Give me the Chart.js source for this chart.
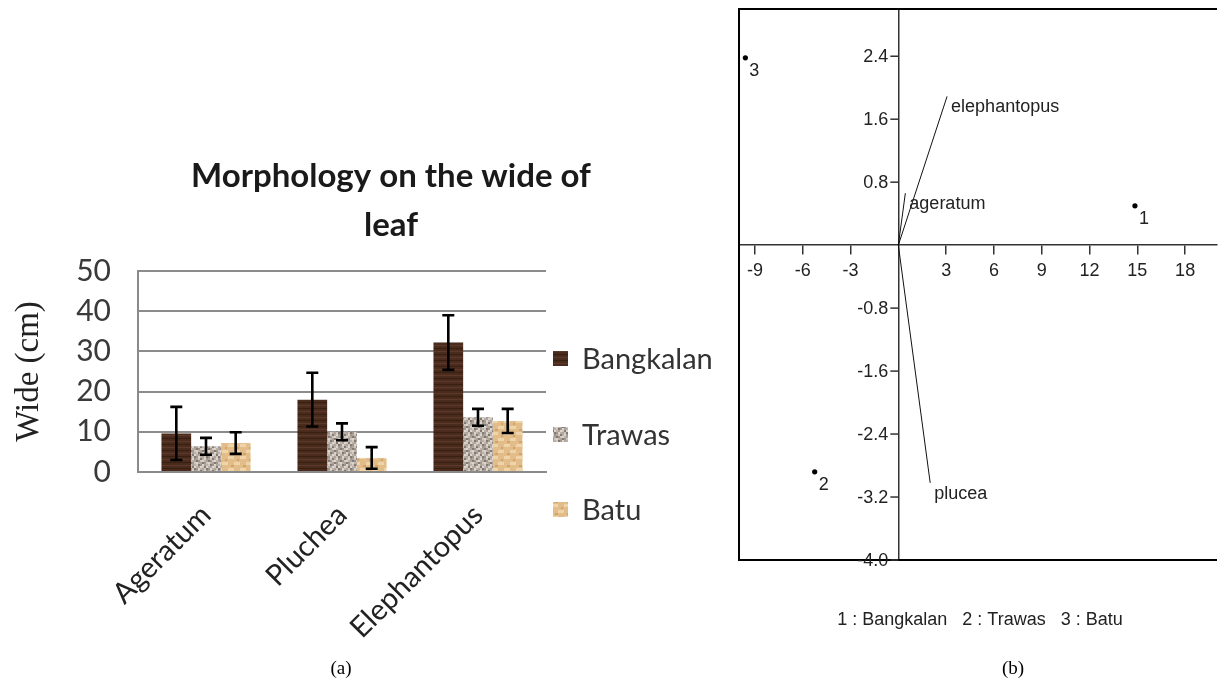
<!DOCTYPE html>
<html><head><meta charset="utf-8">
<script src="https://cdn.jsdelivr.net/npm/chart.js@4.4.0/dist/chart.umd.min.js"></script>
<style>
html,body{margin:0;padding:0;background:#fff;width:1221px;height:682px;overflow:hidden;position:relative}
#wa{position:absolute;left:0;top:0;width:730px;height:682px}
#wb{position:absolute;left:730px;top:0;width:491px;height:682px}
.cap{position:absolute;width:80px;text-align:center;font-family:"Liberation Serif";font-size:19px;line-height:24px;color:#000}
</style></head><body>
<div id="wa"><canvas id="ca"></canvas></div>
<div id="wb"><canvas id="cb"></canvas></div>
<div class="cap" style="left:301px;top:656px">(a)</div>
<div class="cap" style="left:973px;top:656px">(b)</div>
<script>
// ---------- data: panel (a) ----------
const categories = ['Ageratum', 'Pluchea', 'Elephantopus'];
const seriesNames = ['Bangkalan', 'Trawas', 'Batu'];
const bangkalan = [9.6, 18, 32.2];
const trawas = [6.4, 10, 13.6];
const batu = [7.2, 3.5, 12.7];
const errBangkalan = [6.6, 6.7, 6.8];
const errTrawas = [2.1, 2.1, 2.1];
const errBatu = [2.7, 2.7, 3.0];
const yTicksA = [0, 10, 20, 30, 40, 50];
const titleA = ['Morphology on the wide of', 'leaf'];
const yTitleA = 'Wide (cm)';

// ---------- data: panel (b) ----------
const siteNames = ['1', '2', '3'];
const siteX = [14.85, -5.25, -9.6];
const siteY = [0.5, -2.88, 2.38];
const varNames = ['elephantopus', 'ageratum', 'plucea'];
const varX = [3.06, 0.44, 2.0];
const varY = [1.89, 0.66, -3.02];
const xTicksB = [-9, -6, -3, 3, 6, 9, 12, 15, 18];
const yTicksB = [2.4, 1.6, 0.8, -0.8, -1.6, -2.4, -3.2, -4.0];
const legendB = siteNames.map((s, i) => s + ' : ' + seriesNames[i]).join('   ');

// ---------- fill textures ----------
function pat(w, h, fn) {
  const c = document.createElement('canvas'); c.width = w; c.height = h;
  const g = c.getContext('2d'); fn(g); return g.createPattern(c, 'repeat');
}
const patBangkalan = pat(8, 6, g => {
  g.fillStyle = '#4a2b1e'; g.fillRect(0, 0, 8, 6);
  g.fillStyle = '#36200f'; g.fillRect(0, 0, 8, 1);
  g.fillStyle = '#5b3a2a'; g.fillRect(0, 3, 8, 1);
});
const graniteShades = ['#cfc8c0', '#a0968d', '#bab1a8', '#857a72', '#ddd6cf', '#aea49b'];
const graniteIdx = [0,3,1,4,2,5, 4,1,5,0,3,2, 2,5,3,1,0,4, 1,0,4,2,5,3, 5,2,0,3,1,4, 3,4,2,5,4,0];
const patTrawas = pat(12, 12, g => {
  graniteIdx.forEach((k, i) => { g.fillStyle = graniteShades[k]; g.fillRect((i % 6) * 2, Math.floor(i / 6) * 2, 2, 2); });
});
const patBatu = pat(12, 12, g => {
  g.fillStyle = '#e2bd8a'; g.fillRect(0, 0, 12, 12);
  g.fillStyle = '#efd4aa'; g.fillRect(0, 0, 6, 3); g.fillRect(6, 6, 6, 3);
  g.fillStyle = '#d2a46c'; g.fillRect(3, 9, 3, 2); g.fillRect(9, 3, 2, 2);
});

// ---------- plugins (a) ----------
const errorBars = {
  id: 'errorBars',
  afterDatasetsDraw(chart) {
    const {ctx} = chart; const ys = chart.scales.y;
    ctx.save(); ctx.strokeStyle = '#000'; ctx.lineWidth = 2.6;
    chart.data.datasets.forEach((d, i) => {
      chart.getDatasetMeta(i).data.forEach((bar, j) => {
        const v = d.data[j], e = d.errors[j];
        const t = ys.getPixelForValue(v + e), b = ys.getPixelForValue(v - e);
        ctx.beginPath();
        ctx.moveTo(bar.x, t); ctx.lineTo(bar.x, b);
        ctx.moveTo(bar.x - 6, t); ctx.lineTo(bar.x + 6, t);
        ctx.moveTo(bar.x - 6, b); ctx.lineTo(bar.x + 6, b);
        ctx.stroke();
      });
    });
    ctx.restore();
  }
};
const legendA = {
  id: 'legendA',
  afterDraw(chart) {
    const {ctx, chartArea: a} = chart; const offs = [88, 164, 239];
    ctx.save(); ctx.font = '29px Lato'; ctx.textBaseline = 'middle'; ctx.textAlign = 'left';
    chart.data.datasets.forEach((d, i) => {
      const y = a.top + offs[i];
      ctx.fillStyle = d.backgroundColor; ctx.fillRect(a.right + 7, y - 8, 15, 15);
      ctx.fillStyle = '#333'; ctx.fillText(d.label, a.right + 36, y + 1);
    });
    ctx.restore();
  }
};
const titlePluginA = {
  id: 'titleA',
  afterDraw(chart) {
    const {ctx} = chart;
    ctx.save(); ctx.font = 'bold 33px Lato'; ctx.fillStyle = '#1a1a1a';
    ctx.textAlign = 'center'; ctx.textBaseline = 'alphabetic';
    ctx.fillText(titleA[0], 391, 187);
    ctx.fillText(titleA[1], 391, 236);
    ctx.restore();
  }
};

new Chart(document.getElementById('ca'), {
  type: 'bar',
  data: {
    labels: categories,
    datasets: [
      {label: seriesNames[0], data: bangkalan, errors: errBangkalan, backgroundColor: patBangkalan},
      {label: seriesNames[1], data: trawas, errors: errTrawas, backgroundColor: patTrawas},
      {label: seriesNames[2], data: batu, errors: errBatu, backgroundColor: patBatu}
    ]
  },
  options: {
    responsive: true, maintainAspectRatio: false, animation: false,
    datasets: {bar: {categoryPercentage: 0.655, barPercentage: 1}},
    layout: {padding: {top: 271, right: 184, left: 0, bottom: 0}},
    plugins: {legend: {display: false}, title: {display: false}, tooltip: {enabled: false}},
    scales: {
      x: {
        grid: {display: false, drawTicks: false},
        border: {display: true, color: '#8a8a8a', width: 2},
        ticks: {font: {family: 'Lato', size: 29}, color: '#222', minRotation: 45, maxRotation: 45, padding: 26},
        afterFit(s) { s.height = 210; }
      },
      y: {
        min: 0, max: 50,
        afterBuildTicks(s) { s.ticks = yTicksA.map(v => ({value: v})); },
        grid: {color: '#8c8c8c', lineWidth: 2, drawTicks: false},
        border: {display: true, color: '#8a8a8a', width: 2},
        ticks: {font: {family: 'Lato', size: 30}, color: '#3a3a3a', padding: 27},
        title: {display: true, text: yTitleA, font: {family: 'Liberation Serif', size: 33}, color: '#222', padding: {top: 10, bottom: 0}},
        afterFit(s) { s.width = 138; }
      }
    }
  },
  plugins: [errorBars, legendA, titlePluginA]
});

// ---------- plugins (b) ----------
const FONT_B = '18px "Liberation Sans"';
const frameB = {
  id: 'frameB',
  afterDraw(chart) {
    const {ctx, chartArea: a} = chart;
    ctx.save(); ctx.strokeStyle = '#000'; ctx.lineWidth = 2;
    ctx.beginPath();
    ctx.moveTo(a.right, a.top); ctx.lineTo(a.left, a.top); ctx.lineTo(a.left, a.bottom); ctx.lineTo(a.right, a.bottom);
    ctx.stroke();
    ctx.font = FONT_B; ctx.fillStyle = '#222'; ctx.textAlign = 'center'; ctx.textBaseline = 'middle';
    ctx.fillText(legendB, 250, 620);
    ctx.restore();
  }
};
// y-axis sits at x = 0: draw its tick marks and labels on its left side
const yAxisB = {
  id: 'yAxisB',
  afterDraw(chart) {
    const {ctx} = chart; const xs = chart.scales.x, ys = chart.scales.y;
    const x0 = xs.getPixelForValue(0);
    ctx.save(); ctx.strokeStyle = '#333'; ctx.lineWidth = 1.5;
    ctx.font = FONT_B; ctx.fillStyle = '#222'; ctx.textAlign = 'right'; ctx.textBaseline = 'middle';
    ys.ticks.forEach(t => {
      const y = ys.getPixelForValue(t.value);
      ctx.beginPath(); ctx.moveTo(x0 - 8, y); ctx.lineTo(x0, y); ctx.stroke();
      ctx.fillText(Number(t.value).toFixed(1), x0 - 10, y + 1);
    });
    ctx.restore();
  }
};
const labelsB = {
  id: 'labelsB',
  afterDatasetsDraw(chart) {
    const {ctx} = chart;
    ctx.save(); ctx.font = FONT_B; ctx.fillStyle = '#222'; ctx.textAlign = 'left'; ctx.textBaseline = 'middle';
    chart.data.datasets.forEach((d, i) => {
      const els = chart.getDatasetMeta(i).data;
      if (d.names) {
        els.forEach((el, j) => ctx.fillText(d.names[j], el.x + 4, el.y + 13));
      } else {
        const el = els[els.length - 1];
        ctx.fillText(d.label, el.x + 4, el.y + 11);
      }
    });
    ctx.restore();
  }
};

new Chart(document.getElementById('cb'), {
  type: 'scatter',
  data: {
    datasets: [
      {label: 'sites', names: siteNames, data: siteX.map((x, i) => ({x, y: siteY[i]})),
       pointRadius: 2.6, pointBackgroundColor: '#000', pointBorderWidth: 0, showLine: false},
      ...varNames.map((n, i) => ({label: n, data: [{x: 0, y: 0}, {x: varX[i], y: varY[i]}],
        showLine: true, borderColor: '#111', borderWidth: 1, pointRadius: 0}))
    ]
  },
  options: {
    responsive: true, maintainAspectRatio: false, animation: false,
    layout: {padding: {left: 9, top: 9, right: 0, bottom: 122}},
    plugins: {legend: {display: false}, tooltip: {enabled: false}},
    scales: {
      x: {
        type: 'linear', min: -10, max: 20, position: {y: 0},
        afterBuildTicks(s) { s.ticks = xTicksB.map(v => ({value: v})); },
        grid: {drawOnChartArea: false, drawTicks: true, tickLength: 9, color: '#333', lineWidth: 1.5},
        border: {display: true, color: '#333', width: 1.5},
        ticks: {font: {family: 'Liberation Sans', size: 18}, color: '#222', padding: 6, maxRotation: 0, autoSkip: false, callback: v => String(v)}
      },
      y: {
        type: 'linear', min: -4, max: 3, position: {x: 0},
        afterBuildTicks(s) { s.ticks = yTicksB.map(v => ({value: v})); },
        grid: {display: false},
        border: {display: true, color: '#333', width: 1.5},
        ticks: {display: false}
      }
    }
  },
  plugins: [frameB, yAxisB, labelsB]
});
</script>
</body></html>
